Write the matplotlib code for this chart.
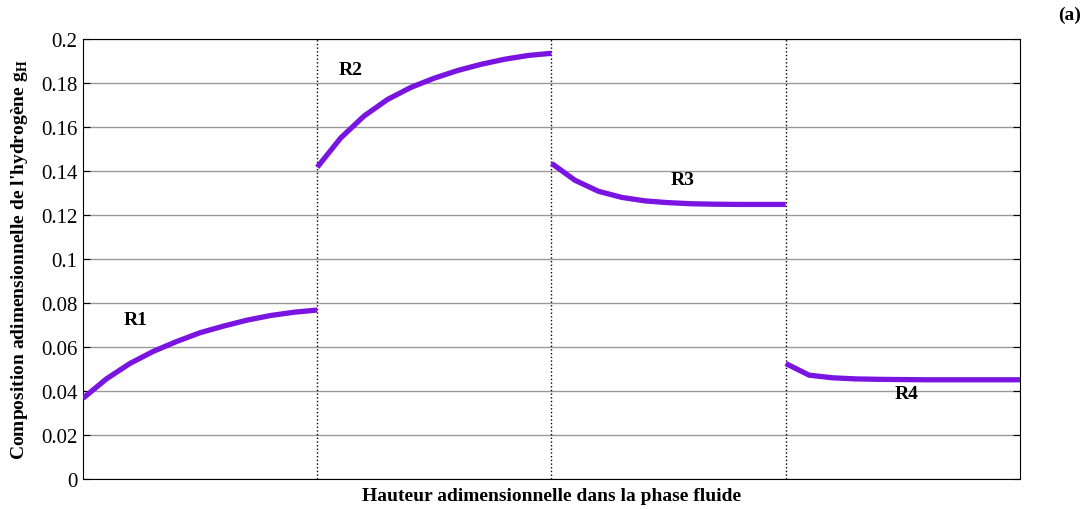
import numpy as np
import matplotlib
matplotlib.use("Agg")
import matplotlib.pyplot as plt

plt.rcParams["font.family"] = ["Liberation Serif", "DejaVu Serif"]
plt.rcParams["mathtext.fontset"] = "custom"
plt.rcParams["mathtext.rm"] = "Liberation Serif"
plt.rcParams["mathtext.bf"] = "Liberation Serif:bold"

# composition of hydrogen in each zone (11 points per zone)
r1 = [0.0367, 0.0455, 0.0525, 0.0580, 0.0625, 0.0665, 0.0695, 0.0722, 0.0743, 0.0758, 0.0768]
r2 = [0.1417, 0.1550, 0.1650, 0.1725, 0.1780, 0.1822, 0.1857, 0.1885, 0.1908, 0.1925, 0.1935]
r3 = [0.1435, 0.1358, 0.1308, 0.1280, 0.1264, 0.1256, 0.1251, 0.1249, 0.1248, 0.1248, 0.1248]
r4 = [0.0525, 0.0472, 0.0460, 0.0455, 0.0453, 0.0452, 0.0451, 0.0451, 0.0451, 0.0451, 0.0451]
zones = [r1, r2, r3, r4]
zone_names = ["R1", "R2", "R3", "R4"]
label_pos = [(0.056, 0.0727), (0.286, 0.186), (0.640, 0.136), (0.879, 0.039)]
yticks = [0, 0.02, 0.04, 0.06, 0.08, 0.1, 0.12, 0.14, 0.16, 0.18, 0.2]

fig = plt.figure(figsize=(10.89, 5.10), dpi=100)
ax = fig.add_axes([0.0762, 0.0588, 0.8604, 0.8628])

color = "#7a14e0"
for i, vals in enumerate(zones):
    x = np.linspace(i * 0.25, (i + 1) * 0.25, len(vals))
    ax.plot(x, vals, color=color, lw=3.8, solid_capstyle="butt", zorder=3)

# zone boundaries
for xb in [0.25, 0.5, 0.75]:
    ax.axvline(xb, color="black", ls=":", lw=1.0, zorder=2)

for name, (tx, ty) in zip(zone_names, label_pos):
    ax.text(tx, ty, name, fontsize=14, fontweight="bold", ha="center", va="center")

ax.set_xlim(0, 1)
ax.set_ylim(0, 0.2)
ax.set_yticks(yticks)
ax.set_yticklabels([f"{v:g}" for v in yticks], fontsize=15)
ax.set_xticks([])
ax.tick_params(axis="y", direction="in", right=True, length=5, pad=4)
ax.yaxis.grid(True, color="#999999", lw=1.0)
ax.set_axisbelow(True)

ax.set_xlabel("Hauteur adimensionnelle dans la phase fluide", fontsize=14, fontweight="bold")
ax.xaxis.set_label_coords(0.5, -0.018)
ax.xaxis.label.set_va("top")
ax.set_ylabel(r"Composition adimensionnelle de l'hydrogène $\mathbf{g}_{\mathbf{H}}$",
              fontsize=14, fontweight="bold")
ax.yaxis.set_label_coords(-0.057, 0.5)

fig.text(0.993, 0.97, "(a)", fontsize=14, fontweight="bold", ha="right", va="center")

fig.savefig("out.png", dpi=100)
